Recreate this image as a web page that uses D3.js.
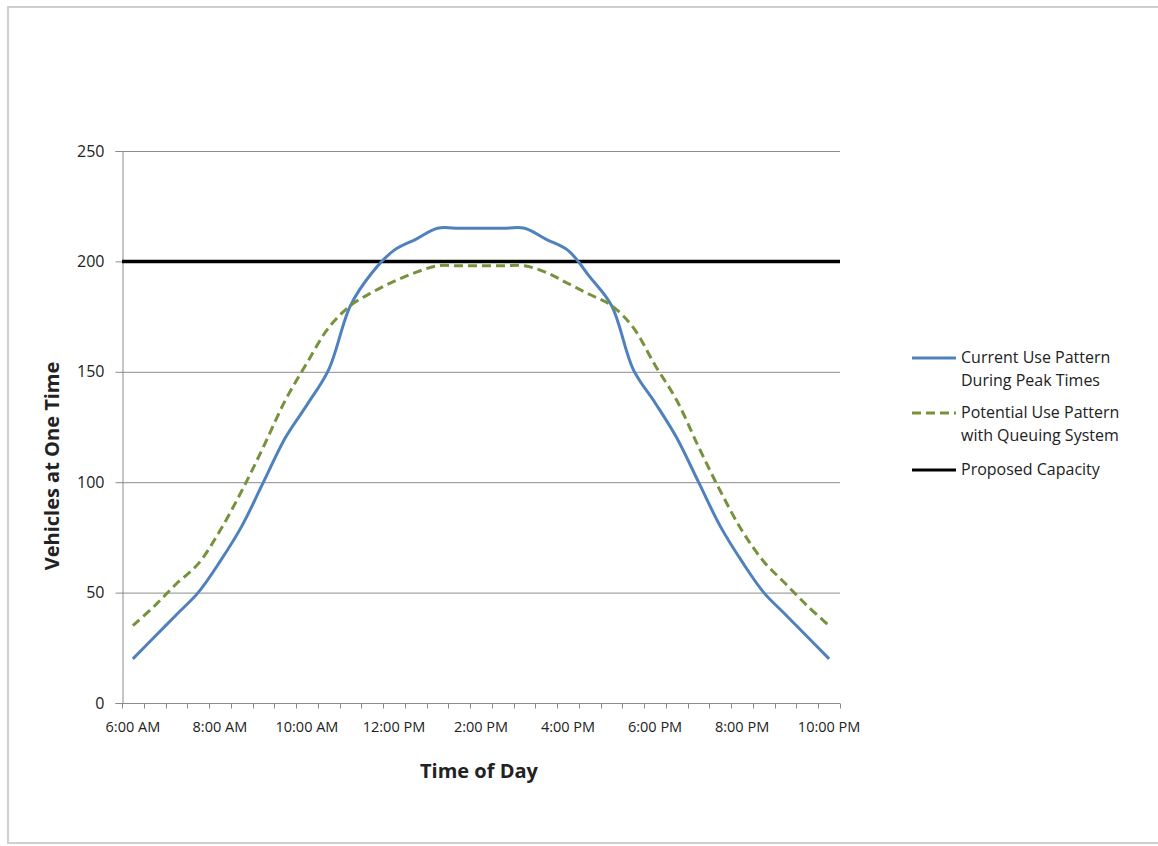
<!DOCTYPE html>
<html>
<head>
<meta charset="utf-8">
<script src="https://cdn.jsdelivr.net/npm/d3@7"></script>
<style>
  html, body { margin: 0; padding: 0; background: #fff; }
  svg { display: block; }
  text { font-family: "Open Sans", "Noto Sans", sans-serif; fill: #222; }
</style>
</head>
<body>
<svg id="chart" width="1158" height="846"></svg>
<script>
// ---- data ----
const categories = [
  "6:00 AM","6:30 AM","7:00 AM","7:30 AM","8:00 AM","8:30 AM","9:00 AM","9:30 AM",
  "10:00 AM","10:30 AM","11:00 AM","11:30 AM","12:00 PM","12:30 PM","1:00 PM","1:30 PM",
  "2:00 PM","2:30 PM","3:00 PM","3:30 PM","4:00 PM","4:30 PM","5:00 PM","5:30 PM",
  "6:00 PM","6:30 PM","7:00 PM","7:30 PM","8:00 PM","8:30 PM","9:00 PM","9:30 PM","10:00 PM"
];
const currentUse = [20, 30, 40, 50, 64, 80, 100, 120, 135, 151, 180, 195, 205, 210, 215, 215,
  215, 215, 215, 210, 205, 193, 180, 151, 136, 120, 100, 80, 64, 50, 40, 30, 20];
const potentialUse = [35, 44, 54, 63, 78, 96, 116, 137, 154, 170, 180, 186, 191, 195, 198, 198,
  198, 198, 198, 195, 190, 185, 180, 170, 153, 137, 116, 96, 78, 64, 54, 44, 35];
const proposedCapacity = 200;
const xTickLabels = ["6:00 AM","8:00 AM","10:00 AM","12:00 PM","2:00 PM","4:00 PM","6:00 PM","8:00 PM","10:00 PM"];
const yTicks = [0, 50, 100, 150, 200, 250];
const seriesNames = [
  ["Current Use Pattern", "During Peak Times"],
  ["Potential Use Pattern", "with Queuing System"],
  ["Proposed Capacity"]
];

// ---- drawing ----
const svg = d3.select("#chart");
const plot = { left: 122, right: 840, top: 151, bottom: 703 };

// outer frame
svg.append("rect").attr("x", 8).attr("y", 7).attr("width", 1160).attr("height", 836)
  .attr("fill", "#fff").attr("stroke", "#cfcfcf").attr("stroke-width", 2);

const x = d3.scaleBand().domain(categories).range([plot.left, plot.right]).padding(0);
const cx = d => x(d) + x.bandwidth() / 2;
const y = d3.scaleLinear().domain([0, 250]).range([plot.bottom, plot.top]);

// gridlines
svg.append("g").selectAll("line").data(yTicks.filter(v => v > 0)).join("line")
  .attr("x1", plot.left).attr("x2", plot.right)
  .attr("y1", d => y(d) + 0.5).attr("y2", d => y(d) + 0.5)
  .attr("stroke", "#8c8c8c").attr("stroke-width", 1);

// y axis
const yAxis = svg.append("g").attr("transform", `translate(${plot.left + 0.5},0)`)
  .call(d3.axisLeft(y).tickValues(yTicks).tickSize(7).tickPadding(11));
yAxis.select(".domain").attr("stroke", "#8c8c8c");
yAxis.selectAll(".tick line").attr("stroke", "#8c8c8c");
yAxis.selectAll(".tick text").style("font-size", "16px").style("font-family", "Open Sans").attr("fill", "#222");

// x axis (category axis with ticks between categories)
const xg = svg.append("g").attr("transform", `translate(0,${plot.bottom + 0.5})`);
xg.append("line").attr("x1", plot.left).attr("x2", plot.right).attr("stroke", "#8c8c8c");
const boundaries = categories.map(c => x(c)).concat([plot.right]);
xg.selectAll("line.tk").data(boundaries).join("line").attr("class", "tk")
  .attr("x1", d => Math.round(d) + 0.5).attr("x2", d => Math.round(d) + 0.5)
  .attr("y1", 0).attr("y2", 5).attr("stroke", "#8c8c8c");
xg.selectAll("text").data(xTickLabels).join("text")
  .attr("x", d => cx(d)).attr("y", 28)
  .attr("text-anchor", "middle").style("font-size", "14.5px").attr("fill", "#222")
  .text(d => d);

// axis titles
svg.append("text").attr("x", 479).attr("y", 778).attr("text-anchor", "middle")
  .style("font-size", "20px").style("font-weight", "bold").text("Time of Day");
svg.append("text").attr("transform", "translate(59,466) rotate(-90)").attr("text-anchor", "middle")
  .style("font-size", "20px").style("font-weight", "bold").text("Vehicles at One Time");

// series
const line = d3.line().x((d, i) => cx(categories[i])).y(d => y(d)).curve(d3.curveCatmullRom.alpha(0.5));
svg.append("line").attr("x1", plot.left).attr("x2", plot.right)
  .attr("y1", y(proposedCapacity)).attr("y2", y(proposedCapacity))
  .attr("stroke", "#000").attr("stroke-width", 3.5);
svg.append("path").datum(currentUse).attr("d", line)
  .attr("fill", "none").attr("stroke", "#4F81BD").attr("stroke-width", 3).attr("stroke-linejoin", "round");
svg.append("path").datum(potentialUse).attr("d", line)
  .attr("fill", "none").attr("stroke", "#76923C").attr("stroke-width", 3)
  .attr("stroke-dasharray", "9,5");

// legend
const legend = svg.append("g");
const legStyles = [
  { stroke: "#4F81BD", dash: null, y: 358 },
  { stroke: "#76923C", dash: "9,5", y: 413 },
  { stroke: "#000", dash: null, y: 470 }
];
seriesNames.forEach((lines, i) => {
  const s = legStyles[i];
  legend.append("line").attr("x1", 912).attr("x2", 956).attr("y1", s.y).attr("y2", s.y)
    .attr("stroke", s.stroke).attr("stroke-width", 3).attr("stroke-dasharray", s.dash);
  lines.forEach((t, j) => {
    legend.append("text").attr("x", 961).attr("y", s.y + 5 + j * 23)
      .style("font-size", "16px").text(t);
  });
});
</script>
</body>
</html>
